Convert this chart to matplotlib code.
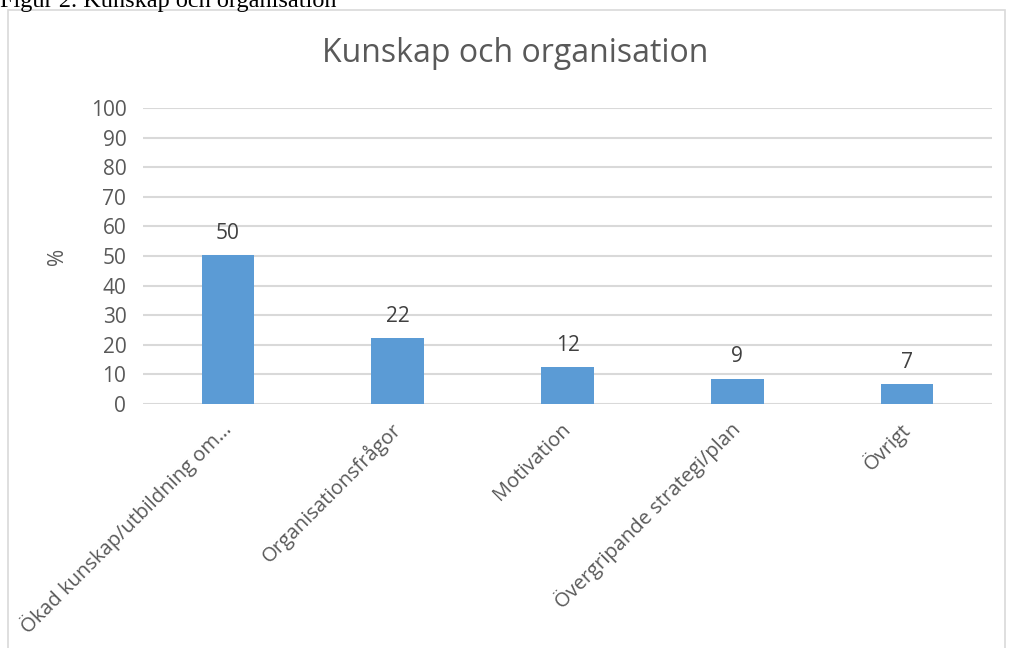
import matplotlib
matplotlib.use("Agg")
import matplotlib.pyplot as plt
from matplotlib.patches import Rectangle

categories = [
    "Ökad kunskap/utbildning om…",
    "Organisationsfrågor",
    "Motivation",
    "Övergripande strategi/plan",
    "Övrigt",
]
values = [50.3, 22.3, 12.4, 8.6, 6.7]
labels = ["50", "22", "12", "9", "7"]
yticks = list(range(0, 101, 10))

text_color = "#595959"
grid_color = "#d9d9d9"
bar_color = "#5b9bd5"

plt.rcParams["font.family"] = ["Open Sans", "DejaVu Sans"]

fig = plt.figure(figsize=(10.11, 6.48), dpi=100)
ax = fig.add_axes([143 / 1011, 1 - 404 / 648, 849 / 1011, 296 / 648])

# outer chart frame
fig.patches.append(Rectangle((8 / 1011, -0.01), 997 / 1011, 1 - 10 / 648 + 0.01,
                             transform=fig.transFigure, fill=False,
                             edgecolor=grid_color, linewidth=1.2))

# caption from the document, cut off at the top
fig.text(0.0, 1 - 7 / 648, "Figur 2. Kunskap och organisation",
         family="Liberation Serif", fontsize=17.5, color="black",
         ha="left", va="baseline")

x = range(len(categories))
ax.bar(x, values, width=0.31, color=bar_color, zorder=3)
for xi, v, lab in zip(x, values, labels):
    ax.annotate(lab, (xi, v), xytext=(0, 8), textcoords="offset points",
                ha="center", va="bottom", fontsize=15, color="#404040")

ax.set_xlim(-0.5, len(categories) - 0.5)
ax.set_ylim(0, 100)
ax.set_yticks(yticks)
ax.yaxis.grid(True, color=grid_color, linewidth=1.5, zorder=0)
ax.set_axisbelow(True)
for s in ax.spines.values():
    s.set_visible(False)
ax.tick_params(axis="both", length=0, labelsize=15, labelcolor=text_color)
ax.tick_params(axis="y", pad=12)
ax.set_xticks(list(x))
ax.set_xticklabels(categories, rotation=45, ha="right", va="center",
                   rotation_mode="anchor", fontsize=14.5)
ax.tick_params(axis="x", pad=16)
ax.set_ylabel("%", fontsize=15, color=text_color, labelpad=16)

fig.text(515 / 1011, 1 - 53 / 648, "Kunskap och organisation",
         fontsize=23, color=text_color, ha="center", va="center")

fig.savefig("out.png", dpi=100)
